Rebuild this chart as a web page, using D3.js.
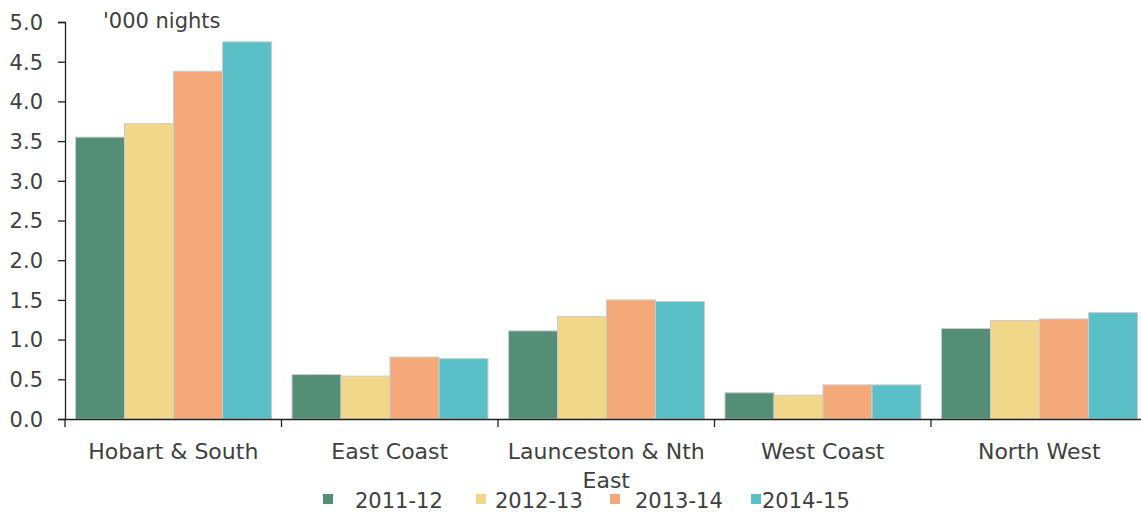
<!DOCTYPE html>
<html>
<head>
<meta charset="utf-8">
<script src="https://cdn.jsdelivr.net/npm/d3@7"></script>
<style>
  html, body { margin: 0; padding: 0; background: #fff; }
  svg { display: block; font-family: "DejaVu Sans", sans-serif; }
</style>
</head>
<body>
<svg id="chart" width="1141" height="512"></svg>
<script>
const categories = ["Hobart & South", "East Coast", "Launceston & Nth East", "West Coast", "North West"];
const seriesNames = ["2011-12", "2012-13", "2013-14", "2014-15"];
const v2011_12 = [3.55, 0.56, 1.11, 0.33, 1.14];
const v2012_13 = [3.72, 0.54, 1.29, 0.30, 1.24];
const v2013_14 = [4.38, 0.78, 1.50, 0.43, 1.26];
const v2014_15 = [4.75, 0.76, 1.48, 0.43, 1.34];
const seriesValues = [v2011_12, v2012_13, v2013_14, v2014_15];
const yTicks = [0, 0.5, 1.0, 1.5, 2.0, 2.5, 3.0, 3.5, 4.0, 4.5, 5.0];
const unitLabel = "'000 nights";

const colors = ["#558E76", "#F0D78A", "#F4A97B", "#5BBFC7"];
const textColor = "#404040";

const svg = d3.select("#chart");
const mLeft = 65, mBottom = 419, mTop = 22;
const bandW = 216.5;

const x0 = d3.scaleBand().domain(categories).range([mLeft, mLeft + bandW * categories.length]).padding(0);
const x1 = d3.scaleBand().domain(seriesNames).range([10.5, bandW - 10]).padding(0);
const y = d3.scaleLinear().domain([0, 5]).range([mBottom, mTop]);

// bars
const groups = svg.append("g").selectAll("g")
  .data(categories).join("g")
  .attr("transform", d => `translate(${x0(d)},0)`);

groups.selectAll("rect")
  .data((c, ci) => seriesNames.map((s, si) => ({ s, si, v: seriesValues[si][ci] })))
  .join("rect")
  .attr("x", d => x1(d.s))
  .attr("y", d => y(d.v))
  .attr("width", x1.bandwidth())
  .attr("height", d => mBottom - y(d.v))
  .attr("fill", d => colors[d.si])
  .attr("stroke", "#cccccc")
  .attr("stroke-width", 1);

// y axis
const yAxis = d3.axisLeft(y).tickValues(yTicks).tickFormat(d3.format(".1f")).tickSize(7).tickPadding(15);
const gy = svg.append("g").attr("transform", `translate(${mLeft},0)`).call(yAxis);
gy.select(".domain").attr("stroke", "#222").attr("stroke-width", 1.3);
gy.selectAll(".tick line").attr("stroke", "#222").attr("stroke-width", 1.3);
gy.selectAll(".tick text").attr("fill", textColor).style("font-size", "21px")
  .style("font-family", "DejaVu Sans, sans-serif").attr("dy", "0.35em");

// x axis
const xAxis = d3.axisBottom(x0).tickSize(0).tickFormat("");
const gx = svg.append("g").attr("transform", `translate(0,${mBottom})`).call(xAxis);
gx.select(".domain").attr("stroke", "#222").attr("stroke-width", 1.3);
gx.selectAll(".bound").data(d3.range(categories.length + 1)).join("line")
  .attr("class", "bound")
  .attr("x1", i => mLeft + i * bandW).attr("x2", i => mLeft + i * bandW)
  .attr("y1", 0).attr("y2", 8)
  .attr("stroke", "#222").attr("stroke-width", 1.3);

// category labels (wrap)
const maxW = 205;
categories.forEach(c => {
  const cx = x0(c) + bandW / 2;
  const t = svg.append("text")
    .attr("x", cx)
    .attr("y", 459)
    .attr("text-anchor", "middle")
    .attr("fill", textColor)
    .style("font-size", "22px");
  const words = c.split(" ");
  let line = [];
  let tspan = t.append("tspan").attr("x", cx).attr("dy", 0);
  words.forEach(w => {
    line.push(w);
    tspan.text(line.join(" "));
    if (tspan.node().getComputedTextLength() > maxW && line.length > 1) {
      line.pop();
      tspan.text(line.join(" "));
      line = [w];
      tspan = t.append("tspan").attr("x", cx).attr("dy", 29).text(w);
    }
  });
});

// unit label
svg.append("text")
  .attr("x", 103).attr("y", 28)
  .attr("fill", textColor)
  .style("font-size", "21px")
  .text(unitLabel);

// legend
const legendSquareX = [323, 476, 610, 751];
const legendTextX = [355, 495, 635, 762];
const lg = svg.append("g");
seriesNames.forEach((s, i) => {
  lg.append("rect")
    .attr("x", legendSquareX[i]).attr("y", 494)
    .attr("width", 10).attr("height", 10)
    .attr("fill", colors[i]);
  lg.append("text")
    .attr("x", legendTextX[i]).attr("y", 508)
    .attr("fill", textColor)
    .style("font-size", "21px")
    .text(s);
});
</script>
</body>
</html>
